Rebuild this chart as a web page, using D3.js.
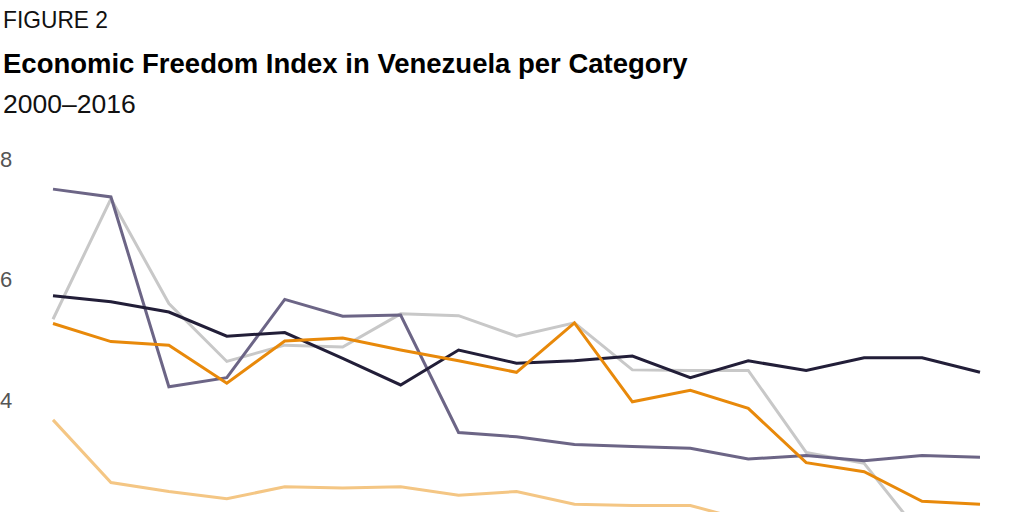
<html>
<head>
<meta charset="utf-8">
<script src="https://d3js.org/d3.v7.min.js"></script>
<style>
body {
	margin: 0;
	background: #fff;
}
.axis path {
	display: none;
}
.axis text {
	fill: #555;
	font-family: "Liberation Sans", Arial, sans-serif;
	font-size: 22px;
}
.series {
	fill: none;
	stroke-width: 3;
	stroke-linejoin: miter;
}
</style>
</head>
<body>
<div id="chart"></div>
<script>

// years on the x axis
var years = [2000, 2001, 2002, 2003, 2004, 2005, 2006, 2007, 2008,
             2009, 2010, 2011, 2012, 2013, 2014, 2015, 2016];

// one array per category
var navyValues   = [5.73, 5.63, 5.46, 5.06, 5.12, 4.69, 4.25, 4.83, 4.61,
                    4.65, 4.73, 4.37, 4.65, 4.49, 4.70, 4.70, 4.46];
var purpleValues = [7.50, 7.37, 4.22, 4.37, 5.67, 5.39, 5.41, 3.46, 3.39,
                    3.26, 3.23, 3.20, 3.02, 3.08, 2.99, 3.08, 3.05];
var greyValues   = [5.34, 7.34, 5.60, 4.64, 4.91, 4.88, 5.43, 5.40, 5.06,
                    5.28, 4.50, 4.49, 4.49, 3.13, 2.95, 1.74, 1.50];
var orangeValues = [5.27, 4.97, 4.91, 4.28, 4.98, 5.03, 4.83, 4.65, 4.46,
                    5.28, 3.97, 4.16, 3.86, 2.96, 2.81, 2.32, 2.27];
var sandValues   = [3.67, 2.63, 2.48, 2.36, 2.56, 2.54, 2.56, 2.42, 2.48,
                    2.27, 2.25, 2.25, 1.99, 1.95, 1.90, 1.85, 1.80];

// only the ticks that fall inside the frame
var yTicks = [4, 6, 8];

var series = [
	{name: "grey",   color: "#c8c8c8", values: greyValues},
	{name: "sand",   color: "#f4c684", values: sandValues},
	{name: "purple", color: "#6c6586", values: purpleValues},
	{name: "navy",   color: "#221e38", values: navyValues},
	{name: "orange", color: "#e8890a", values: orangeValues}
];

let width = 1024,
    height = 512;

let svg = d3.select("#chart").append("svg")
	.attr("width", width)
	.attr("height", height);

// titles
svg.append("text")
	.attr("x", 3)
	.attr("y", 28)
	.attr("font-family", "Liberation Sans Narrow, Liberation Sans, Arial, sans-serif")
	.attr("font-size", 24)
	.attr("fill", "#111")
	.attr("textLength", 105)
	.attr("lengthAdjust", "spacingAndGlyphs")
	.text("FIGURE 2");

svg.append("text")
	.attr("x", 3)
	.attr("y", 73)
	.attr("font-family", "Liberation Sans, Arial, sans-serif")
	.attr("font-weight", "bold")
	.attr("font-size", 27.5)
	.attr("fill", "#000")
	.text("Economic Freedom Index in Venezuela per Category");

svg.append("text")
	.attr("x", 3)
	.attr("y", 113)
	.attr("font-family", "Liberation Sans, Arial, sans-serif")
	.attr("font-size", 26.5)
	.attr("fill", "#111")
	.text("2000\u20132016");

let x = d3.scaleLinear().domain([2000, 2016]).range([53, 980]),
	y = d3.scaleLinear().domain([2, 8]).range([520.5, 159]);

// y axis labels on the left edge
svg.append("g")
	.attr("class", "axis")
	.attr("transform", "translate(0,0)")
	.call(d3.axisRight(y).tickValues(yTicks).tickSize(0).tickPadding(0).tickFormat(d3.format("d")));

let line = d3.line()
	.x(function(d, i) { return x(years[i]); })
	.y(function(d) { return y(d); });

svg.selectAll(".series")
	.data(series)
	.enter()
	.append("path")
	.attr("class", "series")
	.attr("stroke", function(d) { return d.color; })
	.attr("d", function(d) { return line(d.values); });

</script>
</body>
</html>
